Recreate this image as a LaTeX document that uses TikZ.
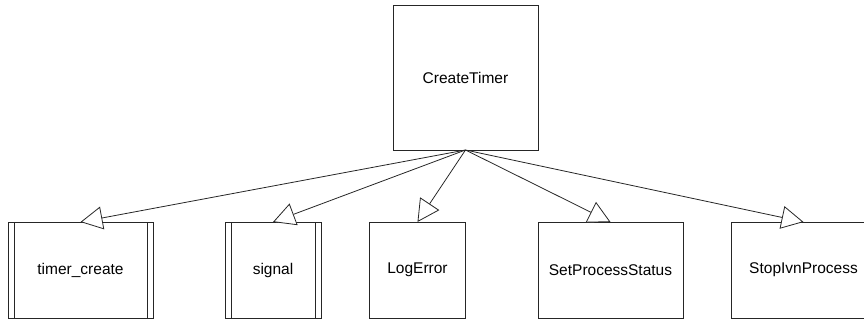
\documentclass[tikz,border=0pt]{standalone}
\usepackage{fontspec}
\setmainfont{Liberation Sans}
\usetikzlibrary{arrows.meta}

\tikzset{
  fnbox/.style={draw=black!85, line width=0.8pt, fill=white, rectangle,
    inner sep=0pt, outer sep=0pt, align=center,
    font=\fontsize{15.5}{18}\selectfont},
  wide/.style={fnbox, minimum width=145pt, minimum height=96pt},
  narrow/.style={fnbox, minimum width=96pt, minimum height=96pt},
  % library routine: rectangle with an extra bar inside each side
  subr/.style={path picture={
      \draw[black!85, line width=0.8pt]
        ([xshift=6pt]path picture bounding box.north west) --
        ([xshift=6pt]path picture bounding box.south west);
      \draw[black!85, line width=0.8pt]
        ([xshift=-6pt]path picture bounding box.north east) --
        ([xshift=-6pt]path picture bounding box.south east);}},
  call/.style={draw=black!85, line width=0.8pt,
    -{Triangle[open, length=22pt, width=23pt, fill=white]}},
}

\begin{document}
\begin{tikzpicture}[x=1pt, y=-1pt]
  \useasboundingbox (0,0) rectangle (864,322);
  \clip (0,0) rectangle (864,322);

  % caller
  \node[fnbox, minimum width=145pt, minimum height=145pt] (ct) at (465.5,77.5) {CreateTimer};

  % callees
  \node[wide, subr]   (tc)  at (80.5,270)  {timer\_create};
  \node[narrow, subr] (sg)  at (273,270)   {signal};
  \node[narrow]       (le)  at (417.5,270) {LogError};
  \node[wide]         (sps) at (610.5,270) {SetProcessStatus};
  \node[wide]         (sip) at (803.5,270) {StopIvnProcess};

  % call edges
  \foreach \t in {tc, sg, le, sps, sip}
    \draw[call] (ct.south) -- (\t.north);
\end{tikzpicture}
\end{document}
